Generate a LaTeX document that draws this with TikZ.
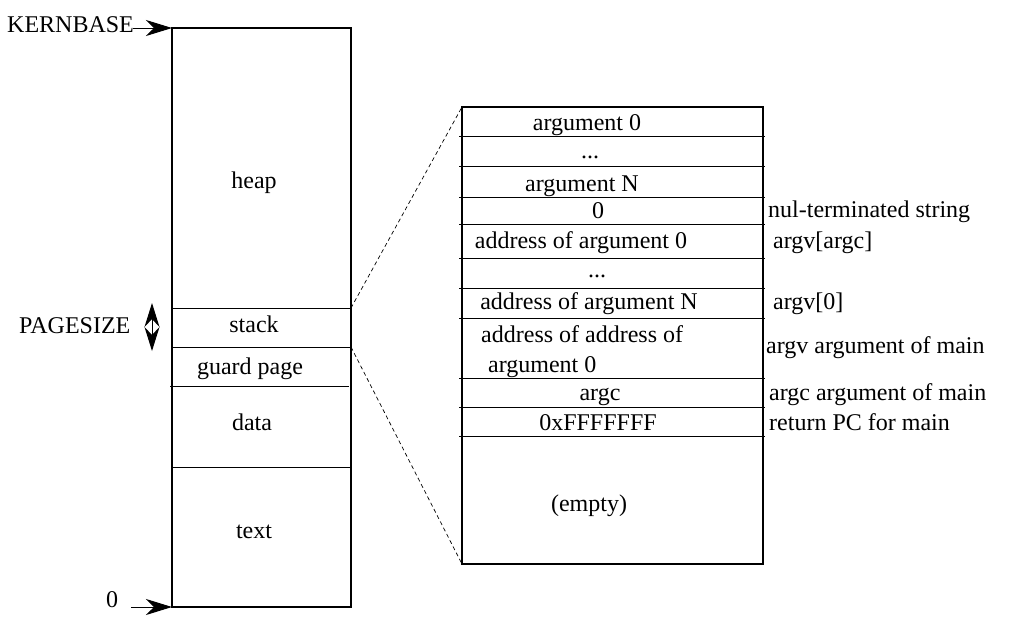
\documentclass[tikz,border=0pt]{standalone}
\usepackage{fontspec}
\setmainfont{Liberation Serif}
\usetikzlibrary{arrows.meta}
\begin{document}
\begin{tikzpicture}[x=1pt,y=-1pt,
  font=\fontsize{24}{28}\selectfont,
  txt/.style={inner sep=0pt, anchor=mid},
  wtxt/.style={inner sep=0pt, anchor=mid west},
  outer/.style={draw, line width=1.7pt},
  inner/.style={line width=0.9pt},
  rbox/.style={draw, line width=1.1pt},
  ptr/.style={-{Stealth[length=26pt,width=16pt,inset=8pt]}, line width=1pt},
  dptr/.style={{Stealth[length=24pt,width=15pt,inset=8pt]}-{Stealth[length=24pt,width=15pt,inset=8pt]}, line width=1pt},
  zoomline/.style={dashed, line width=0.7pt, dash pattern=on 4pt off 3pt}]
\useasboundingbox (0,0) rectangle (1013,638);
% left memory box
\coordinate (ltop) at (172,28);
\coordinate (lbot) at (172,607);
\draw[outer] (172,28) rectangle (351,607);
\coordinate (stackTR) at (351,308);
\coordinate (stackBR) at (351,347);
\draw[inner] (172,308) -- (351,308);
\draw[inner] (172,347) -- (351,347);
\draw[inner] (170,386) -- (349,386);
\draw[inner] (172,467) -- (351,467);
\node[txt] (heap) at (254,186) {heap};
\node[txt] (stack) at (254,330) {stack};
\node[txt] (guard) at (250,372) {guard page};
\node[txt] (data) at (252,428) {data};
\node[txt] (text) at (254,536) {text};
% left labels and arrows
\node[wtxt] (kern) at (7,30) {KERNBASE};
\coordinate (karrow) at (133,28);
\draw[ptr] (karrow) -- (ltop);
\node[txt] (zero) at (112,605) {0};
\coordinate (zarrow) at (131,607);
\draw[ptr] (zarrow) -- (lbot);
\node[wtxt] (pgs) at (19,331) {PAGESIZE};
\coordinate (pa) at (152,303);
\coordinate (pb) at (152,351);
\draw[dptr] (pa) -- (pb);
% right stack box
\coordinate (rTL) at (462,107);
\coordinate (rBL) at (462,564);
\draw[rbox] (462,107) rectangle (763,564);
\foreach \yy in {136,166,197,224,258,288,318,378,407,436}
  \draw[inner] (459,\yy) -- (765,\yy);
\node[txt] (a0) at (587,128) {argument 0};
\node[txt] (d1) at (590,156) {...};
\node[txt] (aN) at (582,189) {argument N};
\node[txt] (z0) at (598,216) {0};
\node[txt] (ad0) at (581,246) {address of argument 0};
\node[txt] (d2) at (597,275) {...};
\node[txt] (adN) at (589,307) {address of argument N};
\node[wtxt] (aa1) at (481,340) {address of address of};
\node[wtxt] (aa2) at (488,370) {argument 0};
\node[txt] (argc) at (600,398) {argc};
\node[txt] (ff) at (598,428) {0xFFFFFFF};
\node[txt] (empty) at (589,509) {(empty)};
% right annotations
\node[wtxt] (n1) at (768,215) {nul-terminated string};
\node[wtxt] (n2) at (773,246) {argv[argc]};
\node[wtxt] (n3) at (773,307) {argv[0]};
\node[wtxt] (n4) at (766,351) {argv argument of main};
\node[wtxt] (n5) at (769,398) {argc argument of main};
\node[wtxt] (n6) at (769,428) {return PC for main};
% zoom lines
\draw[zoomline] (stackTR) -- (rTL);
\draw[zoomline] (stackBR) -- (rBL);
\end{tikzpicture}
\end{document}
